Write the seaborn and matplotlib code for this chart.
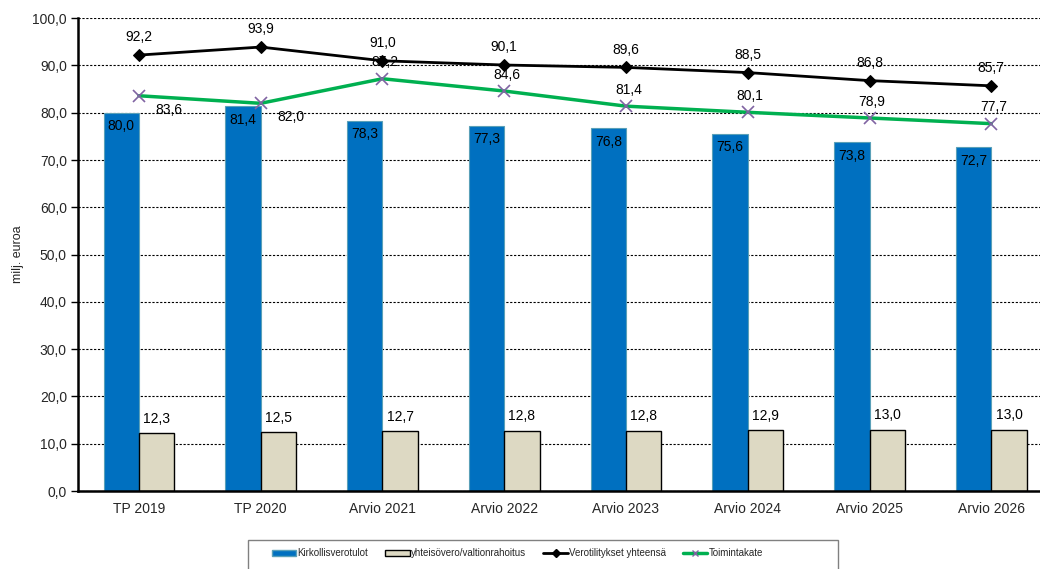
import matplotlib
matplotlib.use("Agg")
import matplotlib.pyplot as plt
from matplotlib.lines import Line2D
from matplotlib.patches import Patch, Rectangle
import numpy as np
import pandas as pd
import seaborn as sns

# chart values
categories = ['TP 2019', 'TP 2020', 'Arvio 2021', 'Arvio 2022',
              'Arvio 2023', 'Arvio 2024', 'Arvio 2025', 'Arvio 2026']
kirkollisverotulot = [80.0, 81.4, 78.3, 77.3, 76.8, 75.6, 73.8, 72.7]
yhteisovero = [12.3, 12.5, 12.7, 12.8, 12.8, 12.9, 13.0, 13.0]
verotilitykset = [92.2, 93.9, 91.0, 90.1, 89.6, 88.5, 86.8, 85.7]
toimintakate = [83.6, 82.0, 87.2, 84.6, 81.4, 80.1, 78.9, 77.7]

names = ['Kirkollisverotulot', 'yhteisövero/valtionrahoitus',
         'Verotilitykset yhteensä', 'Toimintakate']

blue = '#0070C0'
beige = '#DDD9C3'
green = '#00B050'
purple = '#8064A2'

def fmt(v):
    return f'{v:.1f}'.replace('.', ',')

sns.set_style('white')
plt.rcParams['font.family'] = ['Liberation Sans', 'DejaVu Sans']

bars = pd.DataFrame({
    'cat': categories * 2,
    'value': kirkollisverotulot + yhteisovero,
    'series': [names[0]] * len(categories) + [names[1]] * len(categories),
})

fig = plt.figure(figsize=(10.4, 5.69), dpi=100)
ax = fig.add_axes([0.075, 0.137, 0.925, 0.831])

sns.barplot(data=bars, x='cat', y='value', hue='series', order=categories,
            hue_order=names[:2], palette=[blue, beige], width=0.58, gap=0,
            saturation=1, legend=False, ax=ax, zorder=2)

for p in ax.patches:
    if p.get_facecolor()[0] > 0.5:
        p.set_edgecolor('black')
        p.set_linewidth(1.0)
    else:
        p.set_edgecolor('#5AA0B8')
        p.set_linewidth(0.8)

xpos = np.arange(len(categories))
sns.lineplot(x=xpos, y=verotilitykset, color='black', lw=2, marker='D',
             markersize=6.5, markeredgecolor='black', ax=ax, zorder=4)
sns.lineplot(x=xpos, y=toimintakate, color=green, lw=2.5, marker='x',
             markersize=9, markeredgecolor=purple, markeredgewidth=1.2,
             ax=ax, zorder=3)

lbl = dict(fontsize=10, color='black', ha='center', zorder=6)
for i in range(len(categories)):
    ax.text(i - 0.145, kirkollisverotulot[i] - 1.4, fmt(kirkollisverotulot[i]),
            va='top', **lbl)
    ax.text(i + 0.145, yhteisovero[i] + 1.5, fmt(yhteisovero[i]),
            va='bottom', **lbl)
    ax.text(i, verotilitykset[i] + 2.3, fmt(verotilitykset[i]),
            va='bottom', **lbl)
    if i < 2:
        ax.text(i + 0.25, toimintakate[i] - 1.5, fmt(toimintakate[i]),
                va='top', **lbl)
    else:
        ax.text(i + 0.02, toimintakate[i] + 2.0, fmt(toimintakate[i]),
                va='bottom', **lbl)

ax.set_ylim(0, 100)
ax.set_yticks(np.arange(0, 101, 10))
ax.set_yticklabels([fmt(v) for v in np.arange(0, 101, 10)], fontsize=10)
ax.set_xticks(xpos)
ax.set_xticklabels(categories, fontsize=10)
ax.set_xticks(np.arange(-0.5, len(categories), 1), minor=True)
ax.set_xlim(-0.5, 7.40)
ax.tick_params(axis='x', which='major', length=0, pad=8)
ax.tick_params(axis='x', which='minor', length=5, width=1, direction='out',
               color='black')
ax.tick_params(axis='y', length=5, width=1, direction='out', color='black',
               left=True, pad=3)
ax.set_xlabel('')
ax.set_ylabel('milj. euroa', fontsize=9, labelpad=6)
ax.yaxis.grid(True, linestyle=(0, (2, 1.5)), color='black', lw=0.8, zorder=0)
ax.set_axisbelow(True)

for side in ['top', 'right']:
    ax.spines[side].set_visible(False)
ax.spines['left'].set_linewidth(1.8)
ax.spines['bottom'].set_linewidth(1.8)
ax.spines['left'].set_color('black')
ax.spines['bottom'].set_color('black')

# legend frame as in the original (wider than its entries)
fig.patches.append(Rectangle((0.2385, -0.02), 0.567, 0.071,
                             transform=fig.transFigure, facecolor='white',
                             edgecolor='#808080', lw=1.0, zorder=1))
handles = [
    Patch(facecolor=blue, edgecolor='#5AA0B8', label=names[0]),
    Patch(facecolor=beige, edgecolor='black', label=names[1]),
    Line2D([], [], color='black', lw=2, marker='D', markersize=4, label=names[2]),
    Line2D([], [], color=green, lw=2.5, marker='x', markersize=5,
           markeredgecolor=purple, label=names[3]),
]
leg = fig.legend(handles=handles, loc='center left', bbox_to_anchor=(0.254, 0.028),
                 ncol=4, fontsize=7, frameon=False, handlelength=2.5,
                 handleheight=0.6, columnspacing=1.8, handletextpad=0.1,
                 borderpad=0.3)
leg.set_zorder(2)

fig.savefig('out.png', dpi=100)
